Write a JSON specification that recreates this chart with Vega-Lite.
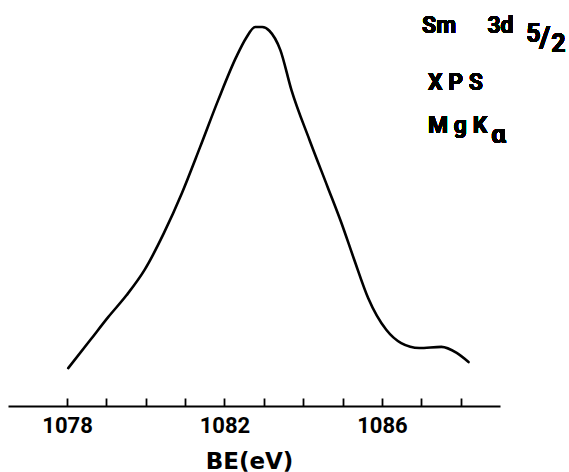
{
  "$schema": "https://vega.github.io/schema/vega-lite/v6.json",
  "autosize": {"type": "none"},
  "width": 492,
  "height": 406,
  "padding": {"left": 8, "top": 0, "right": 69, "bottom": 66},
  "background": "white",
  "config": {
    "view": {"stroke": null},
    "font": "Roboto",
    "text": {"font": "Roboto", "fontWeight": "bold", "color": "black", "align": "left", "baseline": "alphabetic", "fontSize": 23}
  },
  "data": {
    "values": [
      {"be": 1078.03, "counts": 10.0},
      {"be": 1078.59, "counts": 17.4},
      {"be": 1079.05, "counts": 23.5},
      {"be": 1079.51, "counts": 29.2},
      {"be": 1079.97, "counts": 35.9},
      {"be": 1080.46, "counts": 45.6},
      {"be": 1080.92, "counts": 56.2},
      {"be": 1081.38, "counts": 68.3},
      {"be": 1081.84, "counts": 80.7},
      {"be": 1082.30, "counts": 92.1},
      {"be": 1082.55, "counts": 97.1},
      {"be": 1082.78, "counts": 100.0},
      {"be": 1082.96, "counts": 100.0},
      {"be": 1083.14, "counts": 99.0},
      {"be": 1083.42, "counts": 93.9},
      {"be": 1083.70, "counts": 83.4},
      {"be": 1084.16, "counts": 70.2},
      {"be": 1084.62, "counts": 57.8},
      {"be": 1084.96, "counts": 48.6},
      {"be": 1085.29, "counts": 38.8},
      {"be": 1085.65, "counts": 28.5},
      {"be": 1086.11, "counts": 20.1},
      {"be": 1086.49, "counts": 16.6},
      {"be": 1086.95, "counts": 15.3},
      {"be": 1087.51, "counts": 15.6},
      {"be": 1087.90, "counts": 14.0},
      {"be": 1088.20, "counts": 11.6}
    ]
  },
  "layer": [
    {
      "mark": {"type": "line", "interpolate": "monotone", "color": "black", "strokeWidth": 2.6, "strokeCap": "round", "strokeJoin": "round"},
      "encoding": {
        "x": {
          "field": "be", "type": "quantitative",
          "scale": {"domain": [1076.5, 1089], "nice": false, "zero": false},
          "axis": {
            "values": [1078, 1079, 1080, 1081, 1082, 1083, 1084, 1085, 1086, 1087, 1088],
            "labelExpr": "datum.value % 4 == 2 ? datum.label : ''",
            "format": "d",
            "grid": false,
            "domainColor": "black", "domainWidth": 2,
            "tickColor": "black", "tickWidth": 1.8, "tickSize": -8,
            "labelFont": "Roboto", "labelFontWeight": "bold", "labelFontSize": 22, "labelColor": "black",
            "labelPadding": 17, "labelFlush": false, "labelOverlap": false,
            "title": "BE(eV)",
            "titleFont": "DejaVu Sans", "titleFontWeight": "bold", "titleFontSize": 23, "titleColor": "black",
            "titleX": 241, "titleY": 62, "titleAlign": "center", "titleBaseline": "alphabetic"
          }
        },
        "y": {
          "field": "counts", "type": "quantitative",
          "scale": {"domain": [0, 107.12], "nice": false},
          "axis": null
        }
      }
    },
    {
      "mark": {"type": "text", "text": "Sm"},
      "encoding": {"x": {"datum": 1087.02}, "y": {"datum": 98.4}}
    },
    {
      "mark": {"type": "text", "text": "3d"},
      "encoding": {"x": {"datum": 1088.68}, "y": {"datum": 98.4}}
    },
    {
      "mark": {"type": "text", "text": "5", "fontSize": 25},
      "encoding": {"x": {"datum": 1089.67}, "y": {"datum": 96.0}}
    },
    {
      "mark": {"type": "text", "text": "/", "fontSize": 30},
      "encoding": {"x": {"datum": 1090.0}, "y": {"datum": 94.7}}
    },
    {
      "mark": {"type": "text", "text": "2", "fontSize": 25},
      "encoding": {"x": {"datum": 1090.3}, "y": {"datum": 93.4}}
    },
    {
      "mark": {"type": "text", "text": "X P S"},
      "encoding": {"x": {"datum": 1087.17}, "y": {"datum": 83.4}}
    },
    {
      "mark": {"type": "text", "text": "M g K"},
      "encoding": {"x": {"datum": 1087.17}, "y": {"datum": 72.0}}
    },
    {
      "mark": {"type": "text", "text": "α", "fontSize": 26},
      "encoding": {"x": {"datum": 1088.78}, "y": {"datum": 69.4}}
    }
  ]
}
